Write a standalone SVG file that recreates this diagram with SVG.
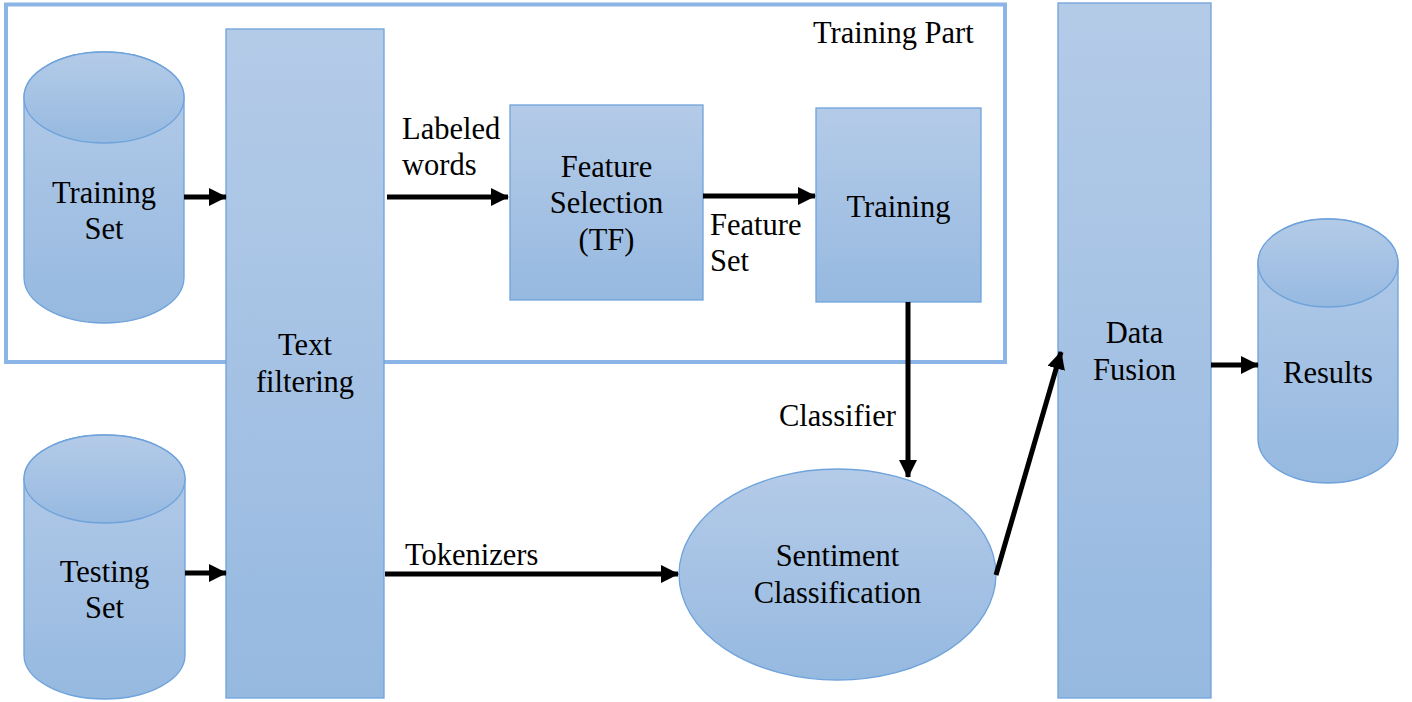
<svg xmlns="http://www.w3.org/2000/svg" width="1412" height="702" viewBox="0 0 1412 702">
<defs>
<linearGradient id="g" x1="0" y1="0" x2="0" y2="1">
<stop offset="0" stop-color="#b4cbe8"/>
<stop offset="1" stop-color="#96b9e0"/>
</linearGradient>
<marker id="ah" viewBox="0 0 18 18" refX="17" refY="9" markerWidth="18" markerHeight="18" markerUnits="userSpaceOnUse" orient="auto">
<path d="M0,0 L18,9 L0,18 Z" fill="#000"/>
</marker>
<style>
.n{fill:url(#g);stroke:#6fa3db;stroke-width:1.3}
.m{text-anchor:middle}
.c{stroke:#000;stroke-width:5;fill:none;marker-end:url(#ah)}
</style>
</defs>
<rect width="1412" height="702" fill="#fff"/>
<g font-family="Liberation Serif, Times New Roman, Times, serif" font-size="30.5" fill="#000">
<g id="training-part">
<rect x="6" y="4.5" width="999" height="357.5" fill="none" stroke="#8ab5e6" stroke-width="4"/>
<text x="813" y="43">Training Part</text>
</g>
<g id="training-set">
<path class="n" d="M24,97.5 L24,277.5 A80,45.5 0 0 0 184,277.5 L184,97.5 A80,45.5 0 0 0 24,97.5 Z"/>
<ellipse class="n" cx="104" cy="97.5" rx="80" ry="45.5"/>
<text class="m" x="104" y="203">Training</text>
<text class="m" x="104" y="239">Set</text>
</g>
<g id="testing-set">
<path class="n" d="M24,479 L24,655 A80.5,44 0 0 0 185,655 L185,479 A80.5,44 0 0 0 24,479 Z"/>
<ellipse class="n" cx="104.5" cy="479" rx="80.5" ry="44"/>
<text class="m" x="104.5" y="582">Testing</text>
<text class="m" x="104.5" y="618">Set</text>
</g>
<g id="text-filtering">
<rect class="n" x="226" y="29" width="158" height="669"/>
<text class="m" x="305" y="355">Text</text>
<text class="m" x="305" y="392">filtering</text>
</g>
<g id="feature-selection">
<rect class="n" x="510" y="105" width="193" height="195"/>
<text class="m" x="606.5" y="177">Feature</text>
<text class="m" x="606.5" y="213">Selection</text>
<text class="m" x="606.5" y="250">(TF)</text>
</g>
<g id="training">
<rect class="n" x="816" y="108" width="165" height="194"/>
<text class="m" x="898.5" y="217">Training</text>
</g>
<g id="sentiment-classification">
<ellipse class="n" cx="837.5" cy="574.5" rx="158.5" ry="105.5"/>
<text class="m" x="837.5" y="566">Sentiment</text>
<text class="m" x="837.5" y="603">Classification</text>
</g>
<g id="data-fusion">
<rect class="n" x="1058" y="3" width="153" height="695"/>
<text class="m" x="1134.5" y="343">Data</text>
<text class="m" x="1134.5" y="380">Fusion</text>
</g>
<g id="results">
<path class="n" d="M1258,263 L1258,439 A70,44 0 0 0 1398,439 L1398,263 A70,44 0 0 0 1258,263 Z"/>
<ellipse class="n" cx="1328" cy="263" rx="70" ry="44"/>
<text class="m" x="1328" y="383">Results</text>
</g>
<g id="connectors">
<line class="c" x1="184" y1="197" x2="226" y2="197"/>
<line class="c" x1="185" y1="573" x2="226" y2="573"/>
<line class="c" x1="387" y1="197" x2="508" y2="197"/>
<line class="c" x1="703" y1="196" x2="815" y2="196"/>
<line class="c" x1="908" y1="302" x2="908" y2="477"/>
<line class="c" x1="385" y1="574" x2="678" y2="574"/>
<line class="c" x1="996" y1="575" x2="1061" y2="352"/>
<line class="c" x1="1211" y1="365" x2="1258" y2="365"/>
<text x="402" y="139">Labeled</text>
<text x="402" y="175">words</text>
<text x="710" y="235">Feature</text>
<text x="710" y="271">Set</text>
<text x="779" y="426">Classifier</text>
<text x="405" y="565">Tokenizers</text>
</g>
</g>
</svg>
